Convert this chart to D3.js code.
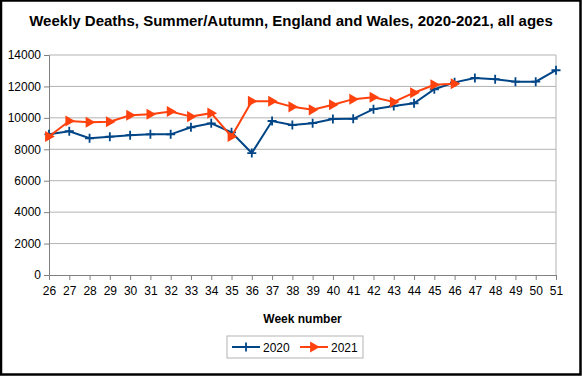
<!DOCTYPE html>
<html>
<head>
<meta charset="utf-8">
<script src="https://cdn.jsdelivr.net/npm/d3@7"></script>
<style>
  body { margin: 0; background: #fff; }
  text { font-family: "Liberation Sans", Arial, sans-serif; }
</style>
</head>
<body>
<div id="chart"></div>
<script>
  // data
  const weeks = d3.range(26, 52);
  const deaths2020 = [8950, 9150, 8700, 8800, 8900, 8950, 8950, 9400, 9650, 9080, 7760, 9800, 9540,
    9660, 9930, 9940, 10550, 10760, 10930, 11820, 12260, 12540, 12460, 12300, 12300, 13030];
  const deaths2021 = [8810, 9800, 9720, 9750, 10170, 10230, 10400, 10080, 10300, 8810, 11060, 11060,
    10700, 10510, 10830, 11190, 11310, 11010, 11600, 12110, 12170];
  const yTicks = [0, 2000, 4000, 6000, 8000, 10000, 12000, 14000];
  const seriesNames = ["2020", "2021"];
  const colors = ["#004586", "#ff420e"];

  const width = 582, height = 377;
  const margin = { top: 55, right: 26, bottom: 102, left: 49 };

  const svg = d3.select("#chart").append("svg")
    .attr("width", width)
    .attr("height", height);

  svg.append("rect")
    .attr("x", 1).attr("y", 0.5)
    .attr("width", width - 2.5).attr("height", height - 3)
    .attr("fill", "#fff")
    .attr("stroke", "#000")
    .attr("stroke-width", 2.5);

  const x = d3.scaleLinear().domain([26, 51]).range([margin.left, width - margin.right]);
  const y = d3.scaleLinear().domain([0, 14000]).range([height - margin.bottom, margin.top]);

  svg.append("text")
    .attr("x", 291).attr("y", 26)
    .attr("text-anchor", "middle")
    .attr("font-size", 15)
    .attr("font-weight", "bold")
    .text("Weekly Deaths, Summer/Autumn, England and Wales, 2020-2021, all ages");

  // gridlines
  svg.append("g")
    .selectAll("line")
    .data(yTicks.slice(1))
    .join("line")
    .attr("x1", x(26)).attr("x2", x(51))
    .attr("y1", d => y(d)).attr("y2", d => y(d))
    .attr("stroke", "#b3b3b3");

  // plot frame right side
  svg.append("line")
    .attr("x1", x(51)).attr("x2", x(51))
    .attr("y1", y(14000)).attr("y2", y(0))
    .attr("stroke", "#b3b3b3");

  const yAxis = svg.append("g")
    .attr("transform", `translate(${margin.left},0)`)
    .call(d3.axisLeft(y).tickValues(yTicks).tickSize(5).tickPadding(3).tickFormat(d3.format("d")));

  const xAxis = svg.append("g")
    .attr("transform", `translate(0,${y(0)})`)
    .call(d3.axisBottom(x).tickValues(weeks).tickSize(5).tickPadding(4).tickFormat(d3.format("d")));

  [yAxis, xAxis].forEach(g => {
    g.select(".domain").attr("stroke", "#808080");
    g.selectAll(".tick line").attr("stroke", "#808080");
    g.selectAll(".tick text")
      .attr("font-size", 12)
      .attr("fill", "#000");
  });
  xAxis.selectAll(".tick text").attr("dy", "0.9em");

  svg.append("text")
    .attr("x", (x(26) + x(51)) / 2).attr("y", 323)
    .attr("text-anchor", "middle")
    .attr("font-size", 12)
    .attr("font-weight", "bold")
    .text("Week number");

  const line = d3.line()
    .x((d, i) => x(weeks[i]))
    .y(d => y(d));

  const cross = "M-4.5,0H4.5M0,-4.5V4.5";
  const tri = "M-3,-4L4,0L-3,4Z";

  function drawSeries(values, color, marker) {
    svg.append("path")
      .datum(values)
      .attr("d", line)
      .attr("fill", "none")
      .attr("stroke", color)
      .attr("stroke-width", 2);
    svg.append("g")
      .selectAll("path")
      .data(values)
      .join("path")
      .attr("transform", (d, i) => `translate(${x(weeks[i])},${y(d)})`)
      .attr("d", marker)
      .attr("fill", color)
      .attr("stroke", color)
      .attr("stroke-width", 1.8);
  }
  drawSeries(deaths2020, colors[0], cross);
  drawSeries(deaths2021, colors[1], tri);

  // legend
  const legend = svg.append("g").attr("transform", "translate(227,336)");
  legend.append("rect")
    .attr("width", 136).attr("height", 22)
    .attr("fill", "#fff")
    .attr("stroke", "#b3b3b3");
  const markers = [cross, tri];
  seriesNames.forEach((name, i) => {
    const g = legend.append("g").attr("transform", `translate(${5 + i * 68},11)`);
    g.append("line").attr("x1", 0).attr("x2", 28)
      .attr("stroke", colors[i]).attr("stroke-width", 2);
    g.append("path").attr("transform", "translate(14,0)")
      .attr("d", markers[i])
      .attr("fill", colors[i]).attr("stroke", colors[i]).attr("stroke-width", 1.8);
    g.append("text").attr("x", 31).attr("y", 4.5)
      .attr("font-size", 12)
      .text(name);
  });
</script>
</body>
</html>
